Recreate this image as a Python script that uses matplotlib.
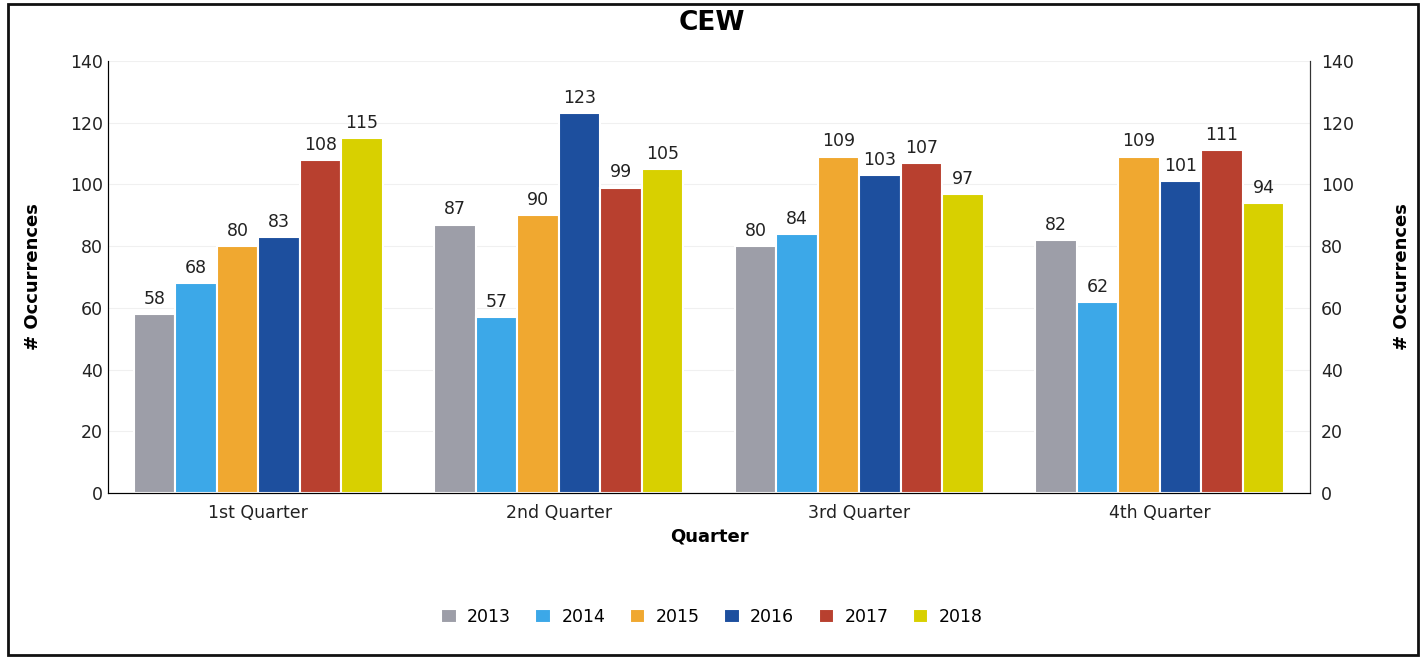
import numpy as np
import matplotlib.pyplot as plt
from matplotlib.patches import Rectangle

quarters = ["1st Quarter", "2nd Quarter", "3rd Quarter", "4th Quarter"]
years = ["2013", "2014", "2015", "2016", "2017", "2018"]
vals_2013 = [58, 87, 80, 82]
vals_2014 = [68, 57, 84, 62]
vals_2015 = [80, 90, 109, 109]
vals_2016 = [83, 123, 103, 101]
vals_2017 = [108, 99, 107, 111]
vals_2018 = [115, 105, 97, 94]
series = [vals_2013, vals_2014, vals_2015, vals_2016, vals_2017, vals_2018]
colors = ["#9d9ea8", "#3ca8e8", "#f0a830", "#1d4f9e", "#b8402f", "#d8d000"]

plt.rcParams['font.family'] = ['DejaVu Sans']

fig = plt.figure(figsize=(14.24, 6.59), dpi=100)
ax = fig.add_axes([108/1424, 1 - 493/659, (1310-108)/1424, (493-61)/659])

x = np.arange(len(quarters))
w = 0.138
for i, (yr, vals) in enumerate(zip(years, series)):
    pos = x + (i - 2.5) * w
    ax.bar(pos, vals, width=w, color=colors[i], edgecolor="white", linewidth=1.5, label=yr, zorder=2)
    for xb, v in zip(pos, vals):
        ax.text(xb, v + 2, str(v), ha="center", va="bottom", fontsize=12.5, color="#222222")

ax.set_xlim(-0.5, 3.5)
ax.set_ylim(0, 140)
ax.set_yticks(range(0, 141, 20))
ax.set_xticks(x)
ax.set_xticklabels(quarters, fontsize=12.5)
ax.tick_params(axis="both", length=0, labelsize=12.5, colors="#222222")
ax.tick_params(axis="x", pad=8)
ax.grid(axis="y", color="#f0f0f0", linewidth=0.8, zorder=0)
ax.spines["top"].set_visible(False)
for s in ["left", "right", "bottom"]:
    ax.spines[s].set_color("#333333")

ax2 = ax.twinx()
ax2.set_ylim(0, 140)
ax2.set_yticks(range(0, 141, 20))
ax2.tick_params(axis="y", length=0, labelsize=12.5, colors="#222222", pad=8)
ax2.spines["top"].set_visible(False)
ax2.spines["right"].set_color("#333333")

ax.set_ylabel("# Occurrences", fontsize=13, fontweight="bold", labelpad=20)
ax2.set_ylabel("# Occurrences", fontsize=13, fontweight="bold", rotation=90, labelpad=28)
ax.set_xlabel("Quarter", fontsize=13, fontweight="bold", labelpad=4)
fig.suptitle("CEW", fontsize=19, fontweight="bold", y=0.985)

fig.legend(*ax.get_legend_handles_labels(), loc="center", bbox_to_anchor=(0.5, 1 - 617/659),
           ncol=6, frameon=False, fontsize=12.5, handlelength=0.9, handleheight=0.9, columnspacing=1.4,
           handletextpad=0.6)

fig.patches.append(Rectangle((8/1424, 4/659), 1410/1424, 651/659, transform=fig.transFigure,
                             fill=False, edgecolor="#111111", linewidth=2))

fig.savefig("out.png", dpi=100)
